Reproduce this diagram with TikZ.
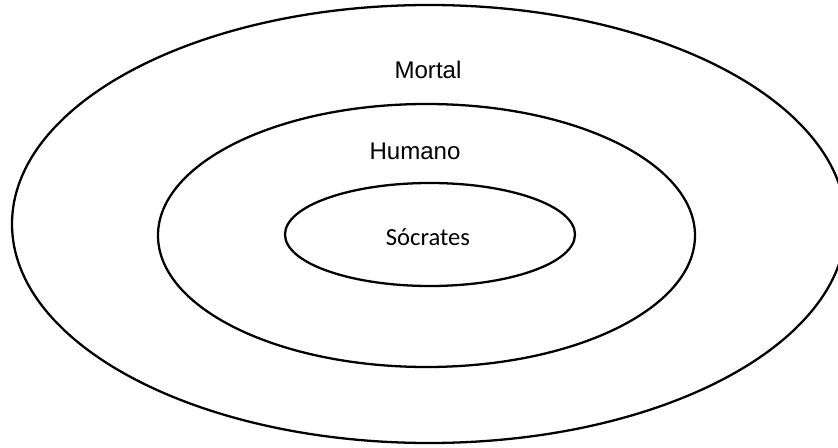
\documentclass[tikz,border=0pt]{standalone}
\usepackage{fontspec}
\setmainfont{Liberation Sans}
\newfontfamily\calibrifont{Carlito}
\begin{document}
\begin{tikzpicture}[line width=1.3pt]
    % 画布边界
    \useasboundingbox (0,0) rectangle (16.76,8.94);
    
    % 外层：Mortal
    \draw (8.58,4.46) ellipse [x radius=8.34, y radius=4.38];
    
    % 中层：Humano
    \draw (8.53,4.23) ellipse [x radius=5.37, y radius=2.63];
    
    % 内层：Sócrates
    \draw (8.60,4.25) ellipse [x radius=2.90, y radius=1.03];
    
    % 标注集合
    \node[anchor=base, font=\fontsize{13.7}{16}\selectfont] (mortal) at (8.56,7.36) {Mortal};
    \node[anchor=base, font=\fontsize{13.7}{16}\selectfont] (humano) at (8.30,5.74) {Humano};
    \node[anchor=base, font=\calibrifont\fontsize{14}{17}\selectfont] (socrates) at (8.56,4.04) {Sócrates};
\end{tikzpicture}
\end{document}
